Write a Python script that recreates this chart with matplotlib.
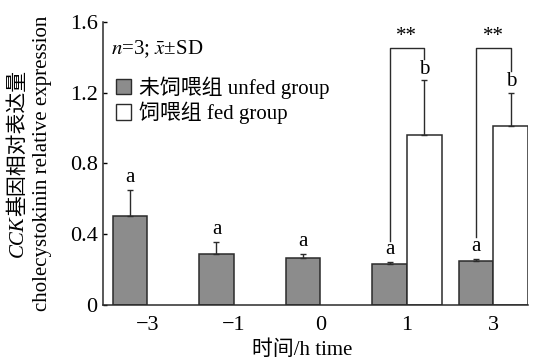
import matplotlib
matplotlib.use("Agg")
import matplotlib.pyplot as plt
from matplotlib.patches import Patch
import numpy as np

plt.rcParams["font.family"] = ["Liberation Serif", "Noto Sans CJK SC"]
plt.rcParams["mathtext.fontset"] = "stix"
plt.rcParams["font.size"] = 15

# CCK relative expression, mean and SD (n=3)
times = ["\u22123", "\u22121", "0", "1", "3"]
unfed_mean = [0.50, 0.29, 0.265, 0.23, 0.25]
unfed_sd = [0.15, 0.065, 0.025, 0.012, 0.012]
fed_mean = [np.nan, np.nan, np.nan, 0.96, 1.01]
fed_sd = [np.nan, np.nan, np.nan, 0.31, 0.19]
unfed_letters = ["a", "a", "a", "a", "a"]
fed_letters = ["", "", "", "b", "b"]
signif = ["", "", "", "**", "**"]

edge = "#2b2b2b"
x = np.arange(len(times))
w = 0.4

fig = plt.figure(figsize=(5.34, 3.6), dpi=100)
ax = fig.add_axes([0.193, 0.153, 0.796, 0.786])

ax.bar(x - w / 2, unfed_mean, w, color="#8c8c8c", edgecolor=edge, linewidth=1.1)
ax.bar(x + w / 2, fed_mean, w, color="white", edgecolor=edge, linewidth=1.1)
ax.errorbar(x - w / 2, unfed_mean, yerr=[np.zeros(len(x)), unfed_sd], fmt="none",
            ecolor=edge, elinewidth=1.0, capsize=2.5, capthick=1.0)
ax.errorbar(x + w / 2, fed_mean, yerr=[np.zeros(len(x)), fed_sd], fmt="none",
            ecolor=edge, elinewidth=1.0, capsize=2.5, capthick=1.0)

for i in range(len(x)):
    top_u = unfed_mean[i] + unfed_sd[i]
    ax.annotate(unfed_letters[i], (x[i] - w / 2, top_u), xytext=(0, 2),
                textcoords="offset points", ha="center", va="bottom")
    if fed_letters[i]:
        top_f = fed_mean[i] + fed_sd[i]
        ax.annotate(fed_letters[i], (x[i] + w / 2, top_f), xytext=(0, 1),
                    textcoords="offset points", ha="center", va="bottom")
    if signif[i]:
        # bracket from above the "a" to above the "b"
        top_f = fed_mean[i] + fed_sd[i]
        y_br = 1.455
        ax.plot([x[i] - w / 2, x[i] - w / 2, x[i] + w / 2, x[i] + w / 2],
                [top_u + 0.12, y_br, y_br, top_f + 0.12],
                color=edge, linewidth=1.0)
        ax.text(x[i], y_br + 0.01, signif[i], ha="center", va="bottom",
                fontsize=15)

ax.set_xlim(-0.51, 4.40)
ax.set_ylim(0, 1.6)
ax.set_yticks([0, 0.4, 0.8, 1.2, 1.6])
ax.set_yticklabels(["0", "0.4", "0.8", "1.2", "1.6"])
ax.set_xticks(x)
ax.set_xticklabels(times)
ax.tick_params(axis="both", labelsize=16)
ax.tick_params(axis="x", length=0, pad=8)
ax.tick_params(axis="y", direction="in", length=3, width=1.0, pad=4)
for s in ["top", "right"]:
    ax.spines[s].set_visible(False)
for s in ["left", "bottom"]:
    ax.spines[s].set_linewidth(1.1)
    ax.spines[s].set_color(edge)

ax.text(0.018, 0.905, r"$n$=3; $\bar{x}$±SD", transform=ax.transAxes,
        ha="left", va="center")
handles = [Patch(facecolor="#8c8c8c", edgecolor=edge, linewidth=1.0),
           Patch(facecolor="white", edgecolor=edge, linewidth=1.0)]
ax.legend(handles, ["未饲喂组 unfed group", "饲喂组 fed group"],
          loc="upper left", bbox_to_anchor=(-0.005, 0.86), frameon=False,
          handlelength=0.75, handleheight=0.75, handletextpad=0.4,
          labelspacing=0.15, borderpad=0.2)

# y label, first line: italic gene name followed by the Chinese text
yl_x, yl_mid = 0.034, 0.546
t_gene = fig.text(yl_x, 0, "CCK", style="italic", rotation=90,
                  ha="center", va="bottom")
t_rest = fig.text(yl_x, 0, "基因相对表达量", rotation=90,
                  ha="center", va="bottom")
fig.canvas.draw()
h_fig = fig.bbox.height
h_gene = t_gene.get_window_extent().height / h_fig
h_rest = t_rest.get_window_extent().height / h_fig
y_start = yl_mid - (h_gene + h_rest) / 2
t_gene.set_y(y_start)
t_rest.set_y(y_start + h_gene)

fig.text(0.080, 0.546, "cholecystokinin relative expression", rotation=90,
         ha="center", va="center")
fig.text(0.566, 0.028, "时间/h time", ha="center", va="center")

fig.savefig("out.png", dpi=100)
